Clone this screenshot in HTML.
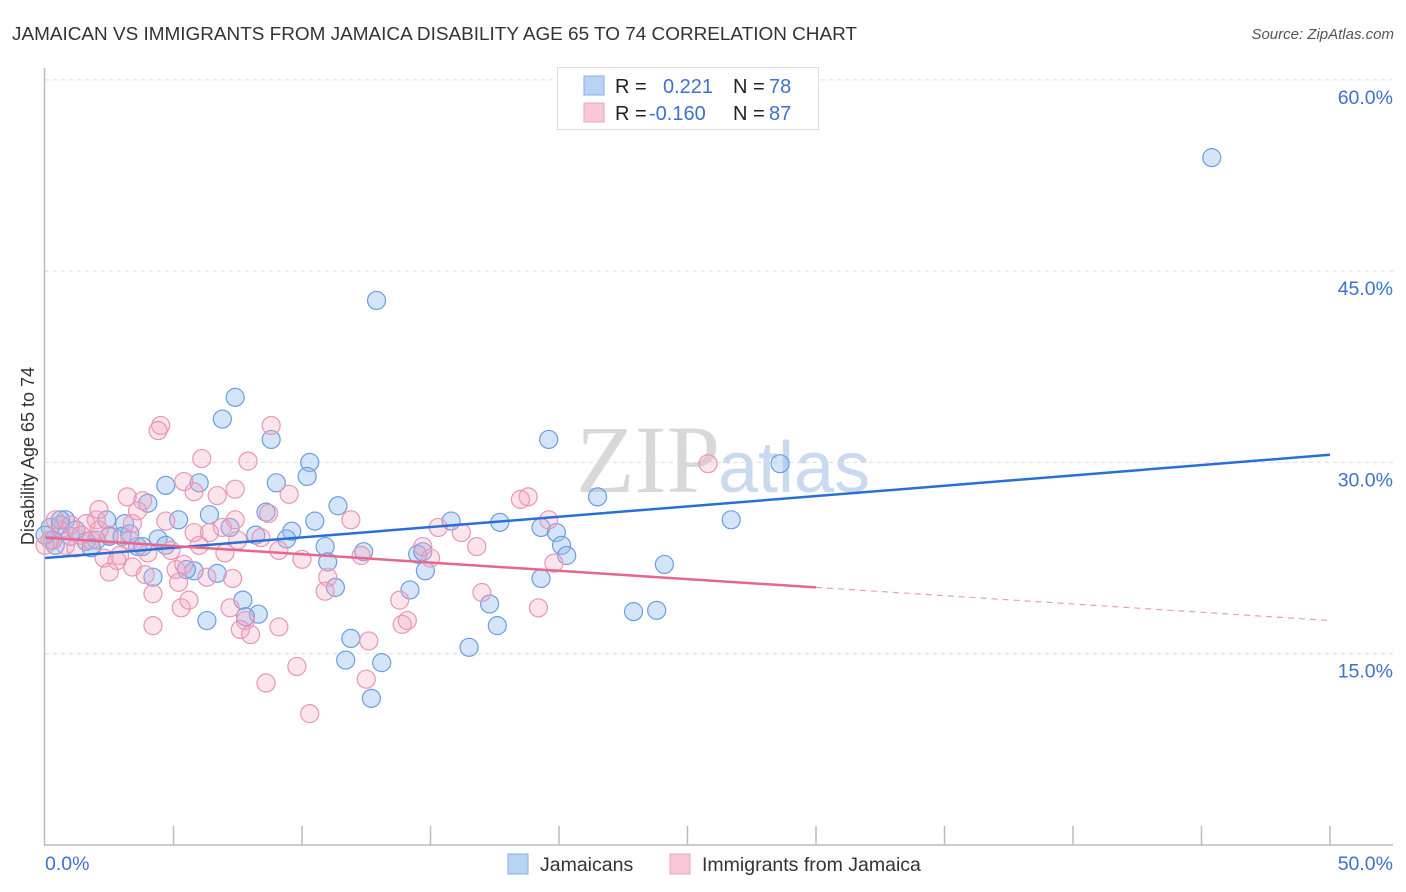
<!DOCTYPE html>
<html><head><meta charset="utf-8"><style>
body{margin:0;background:#fff;font-family:"Liberation Sans",sans-serif;}
#wrap{position:relative;width:1406px;height:892px;overflow:hidden;}
</style></head><body>
<div id="wrap">
<svg id="chart" width="1406" height="892">
<text x="12" y="40" font-size="18" fill="#333" textLength="845" lengthAdjust="spacingAndGlyphs">JAMAICAN VS IMMIGRANTS FROM JAMAICA DISABILITY AGE 65 TO 74 CORRELATION CHART</text>
<text x="1394" y="39" font-size="15" fill="#555" font-style="italic" text-anchor="end">Source: ZipAtlas.com</text>
<text x="720" y="492" font-size="96" fill="#d8d8d8" font-family="Liberation Serif,serif" text-anchor="end">ZIP</text>
<text x="718" y="492" font-size="72" fill="#c9d9ef">atlas</text>
<text transform="translate(34,456) rotate(-90)" font-size="18" fill="#333" text-anchor="middle">Disability Age 65 to 74</text>
<g id="grid"></g><g id="pts"></g><g id="lines"></g>
<line x1="44.5" y1="68" x2="44.5" y2="845" stroke="#bbb" stroke-width="1.5"/>
<line x1="44" y1="845" x2="1393" y2="845" stroke="#bbb" stroke-width="1.5"/>
<text x="45" y="870" font-size="19.5" fill="#3d72cc">0.0%</text>
<text x="1393" y="870" font-size="19.5" fill="#3d72cc" text-anchor="end">50.0%</text>
<g>
<rect x="557.5" y="67.5" width="261" height="62" fill="#fff" stroke="#ddd"/>
<rect x="584" y="76" width="20" height="19" fill="#b9d3f5" stroke="#86aee6"/>
<rect x="584" y="103" width="20" height="19" fill="#f8c8d6" stroke="#eda4bc"/>
<text y="93" font-size="20"><tspan x="615" fill="#222">R =</tspan><tspan x="663" fill="#3d72cc">0.221</tspan><tspan x="733" fill="#222">N =</tspan><tspan x="769" fill="#3d72cc">78</tspan></text>
<text y="120" font-size="20"><tspan x="615" fill="#222">R =</tspan><tspan x="649" fill="#3d72cc">-0.160</tspan><tspan x="733" fill="#222">N =</tspan><tspan x="769" fill="#3d72cc">87</tspan></text>
</g>
<rect x="508" y="854" width="20" height="20" fill="#b9d3f5" stroke="#86aee6"/>
<text x="540" y="871" font-size="19.5" fill="#333">Jamaicans</text>
<rect x="670" y="854" width="20" height="20" fill="#f8c8d6" stroke="#eda4bc"/>
<text x="702" y="871" font-size="19.5" fill="#333">Immigrants from Jamaica</text>
</svg></div>
<script>
const yTicks=[15,30,45,60];
const yTickLabels=["15.0%","30.0%","45.0%","60.0%"];
const xTicks=[5,10,15,20,25,30,35,40,45,50];
const blueX=[45.4,12.9,7.4,6.9,8.8,19.6,28.6,10.3,10.2,4.7,6.0,9.0,11.4,4.0,8.6,5.2,2.4,3.1,10.5,15.8,17.7,26.7,21.5,19.3,19.9,7.2,9.6,9.4,8.2,4.4,2.5,2.0,0.8,0.6,0.2,0.3,0.4,1.0,1.6,3.6,3.8,10.9,12.4,14.5,14.7,20.1,20.3,11.0,14.8,24.1,5.8,5.5,6.7,4.2,19.3,11.3,14.2,17.3,7.7,8.3,7.8,6.3,22.9,23.8,17.6,11.9,16.5,11.7,13.1,12.7,0.6,1.2,1.8,3.0,3.3,0.0,6.4,4.7];
const blueY=[53.9,42.7,35.1,33.4,31.8,31.8,29.9,30.0,28.9,28.2,28.4,28.4,26.6,26.8,26.1,25.5,25.5,25.2,25.4,25.4,25.3,25.5,27.3,24.9,24.5,24.9,24.6,24.0,24.3,24.0,24.2,23.9,25.5,25.1,24.9,23.9,23.5,24.2,23.8,23.4,23.4,23.4,23.0,22.8,23.0,23.5,22.7,22.2,21.5,22.0,21.5,21.6,21.3,21.0,20.9,20.2,20.0,18.9,19.2,18.1,17.9,17.6,18.3,18.4,17.2,16.2,15.5,14.5,14.3,11.5,25.5,24.7,23.3,24.2,24.4,24.3,25.9,23.5];
const pinkX=[4.5,4.4,8.8,6.1,7.9,25.8,5.4,7.4,3.2,5.8,9.5,6.7,18.8,3.8,3.6,8.7,4.7,7.4,2.0,3.4,1.6,19.6,6.9,15.3,16.2,7.5,5.8,6.4,2.5,6.0,8.4,14.7,16.8,4.0,2.9,2.3,2.8,7.0,12.3,15.0,19.8,2.5,3.4,3.9,5.1,5.4,6.3,11.0,7.3,5.2,4.2,10.9,17.0,5.3,7.2,7.8,14.1,13.9,19.2,4.2,9.1,7.6,8.0,12.6,9.8,8.6,12.5,10.3,0.6,1.0,0.2,1.4,1.8,2.1,0.4,0.8,1.2,0.0,3.3,4.9,10.0,18.5,13.8,5.6,9.1,11.9,2.1];
const pinkY=[32.9,32.5,32.9,30.3,30.1,29.9,28.5,27.9,27.3,27.7,27.5,27.4,27.3,27.0,26.2,26.0,25.4,25.5,25.5,25.2,25.2,25.5,24.9,24.9,24.5,23.9,24.5,24.5,24.3,23.5,24.1,23.4,23.4,22.9,22.7,22.5,22.3,22.9,22.7,22.5,22.1,21.4,21.8,21.2,21.6,22.0,21.0,21.0,20.9,20.6,19.7,19.9,19.8,18.6,18.6,17.6,17.6,17.3,18.6,17.2,17.1,16.9,16.5,16.0,14.0,12.7,13.0,10.3,24.7,25.1,23.9,24.3,23.9,24.7,25.5,23.5,23.3,23.5,23.9,23.1,22.4,27.1,19.2,19.2,23.1,25.5,26.3];
const blueTrend=[22.5,30.6];
const pinkTrend=[24.1,17.6];
const pinkSolidEnd=30.0;

const NS="http://www.w3.org/2000/svg";
const X0=45,X1=1330,Y0=845,YPER=12.753;
function sx(v){return X0+(X1-X0)*v/50;}
function sy(v){return Y0-v*YPER;}
function mk(tag,attrs,parent){const e=document.createElementNS(NS,tag);for(const k in attrs)e.setAttribute(k,attrs[k]);parent.appendChild(e);return e;}
const grid=document.getElementById('grid');
yTicks.forEach((t,i)=>{
 const l=mk('line',{x1:45,x2:1393,y1:sy(t),y2:sy(t),stroke:'#ddd','stroke-dasharray':'4,4'},grid);
 
 
 const tx=mk('text',{x:1393,y:sy(t)+24,'font-size':19.5,fill:'#3d72cc','text-anchor':'end'},grid);
 tx.textContent=yTickLabels[i];
 
 
});
xTicks.forEach(t=>{
 const l=mk('line',{x1:sx(t),x2:sx(t),y1:826,y2:845,stroke:'#bbb','stroke-width':1.5},grid);
 
 
});
const pts=document.getElementById('pts');
blueX.forEach((x,i)=>{
 const c=mk('circle',{cx:sx(x),cy:sy(blueY[i]),r:9,fill:'rgba(150,190,240,0.4)',stroke:'#6b9de0','stroke-width':1.2},pts);
 
 
});
pinkX.forEach((x,i)=>{
 const c=mk('circle',{cx:sx(x),cy:sy(pinkY[i]),r:9,fill:'rgba(245,165,192,0.3)',stroke:'#e996b4','stroke-width':1.2},pts);
 
 
});
const lines=document.getElementById('lines');
const bl=mk('line',{x1:sx(0),y1:sy(blueTrend[0]),x2:sx(50),y2:sy(blueTrend[1]),stroke:'#2a6fd6','stroke-width':2.5},lines);


const pAt=x=>pinkTrend[0]+(pinkTrend[1]-pinkTrend[0])*x/50;
const pl=mk('line',{x1:sx(0),y1:sy(pAt(0)),x2:sx(pinkSolidEnd),y2:sy(pAt(pinkSolidEnd)),stroke:'#e8658f','stroke-width':2.5},lines);


const pd=mk('line',{x1:sx(pinkSolidEnd),y1:sy(pAt(pinkSolidEnd)),x2:sx(50),y2:sy(pAt(50)),stroke:'#e8a0b8','stroke-width':1.2,'stroke-dasharray':'6,5'},lines);


</script>
</body></html>
